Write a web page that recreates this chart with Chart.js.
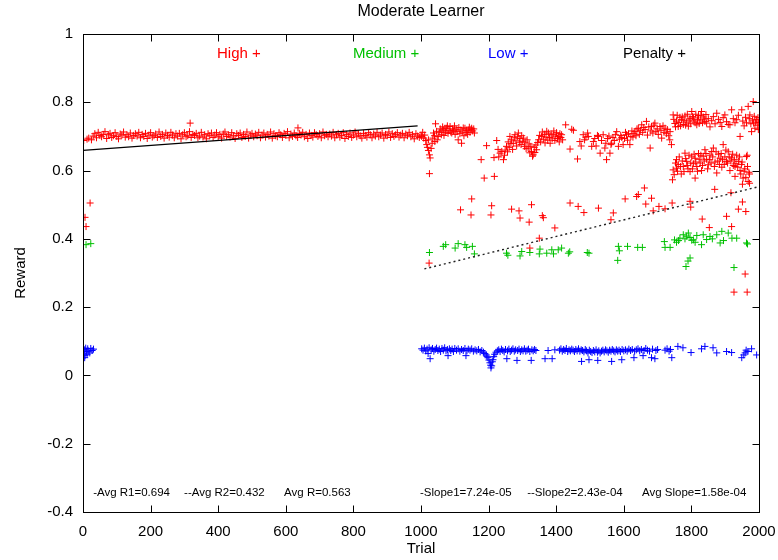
<!DOCTYPE html>
<html>
<head>
<meta charset="utf-8">
<title>Moderate Learner</title>
<script src="https://cdn.jsdelivr.net/npm/chart.js@4.4.0/dist/chart.umd.min.js"></script>
<style>
  html, body { margin: 0; padding: 0; background: #fff; }
  #wrap { width: 778px; height: 560px; }
</style>
</head>
<body>
<div id="wrap"><canvas id="chart" width="778" height="560"></canvas></div>
<script>
// [trial, reward]

// High reward: a tight band in trials 0-1000, then a looser cloud
const highPoints = [
  [2,.688],[6,.463],[9,.436],[12,.692],[17,.695],[21,.505],[25,.690],[317,.739],[636,.725],
  [30,.701],[35,.708],[40,.696],[45,.712],[50,.703],[55,.699],[60,.706],[65,.714],[70,.694],[75,.705],[80,.709],[85,.697],[90,.702],[95,.711],[100,.700],[105,.693],[110,.707],[115,.704],[120,.713],[125,.698],
  [130,.705],[135,.699],[140,.710],[145,.695],[150,.703],[155,.708],[160,.701],[165,.712],[170,.696],[175,.706],[180,.700],[185,.709],[190,.694],[195,.704],[200,.711],[205,.698],[210,.702],[215,.707],[220,.697],[225,.713],
  [230,.700],[235,.706],[240,.695],[245,.710],[250,.703],[255,.698],[260,.712],[265,.704],[270,.696],[275,.708],[280,.701],[285,.709],[290,.693],[295,.705],[300,.711],[305,.699],[310,.702],[315,.714],[320,.697],[325,.706],
  [330,.703],[335,.709],[340,.696],[345,.701],[350,.712],[355,.698],[360,.705],[365,.693],[370,.708],[375,.702],[380,.710],[385,.697],[390,.704],[395,.711],[400,.699],[405,.706],[410,.695],[415,.707],[420,.713],[425,.700],
  [430,.705],[435,.698],[440,.711],[445,.702],[450,.694],[455,.708],[460,.703],[465,.710],[470,.697],[475,.706],[480,.700],[485,.713],[490,.695],[495,.704],[500,.709],[505,.699],[510,.707],[515,.702],[520,.712],[525,.696],
  [530,.704],[535,.710],[540,.698],[545,.706],[550,.701],[555,.713],[560,.695],[565,.708],[570,.702],[575,.699],[580,.711],[585,.705],[590,.697],[595,.709],[600,.703],[605,.714],[610,.696],[615,.707],[620,.700],[625,.710],
  [630,.702],[635,.697],[640,.709],[645,.704],[650,.712],[655,.699],[660,.706],[665,.694],[670,.710],[675,.703],[680,.698],[685,.711],[690,.705],[695,.700],[700,.708],[705,.696],[710,.713],[715,.702],[720,.706],[725,.699],
  [730,.707],[735,.701],[740,.712],[745,.696],[750,.705],[755,.709],[760,.698],[765,.703],[770,.711],[775,.694],[780,.706],[785,.700],[790,.710],[795,.697],[800,.704],[805,.713],[810,.699],[815,.708],[820,.702],[825,.695],
  [830,.709],[835,.703],[840,.698],[845,.711],[850,.705],[855,.696],[860,.707],[865,.701],[870,.712],[875,.699],[880,.704],[885,.710],[890,.695],[895,.706],[900,.702],[905,.713],[910,.697],[915,.708],[920,.700],[925,.705],
  [930,.711],[935,.698],[940,.704],[945,.709],[950,.696],[955,.707],[960,.702],[965,.712],[970,.699],[975,.705],[980,.693],[985,.708],[990,.701],[995,.697],[1000,.704],
  // second half
  [1002,.700],[1005,.712],[1008,.695],[1011,.704],[1014,.688],[1017,.676],[1019,.668],[1022,.690],[1022,.659],[1025,.646],[1027,.637],[1025,.591],[1030,.665],[1033,.680],[1035,.695],[1037,.710],[1040,.702],[1041,.685],[1043,.737],[1046,.715],[1048,.690],[1051,.700],
  [1054,.712],[1057,.722],[1060,.705],[1062,.716],[1064,.728],[1066,.719],[1068,.703],[1071,.724],[1073,.712],[1076,.724],[1078,.731],[1080,.709],[1083,.718],[1086,.729],[1088,.713],[1091,.710],[1093,.722],[1096,.717],[1099,.731],[1101,.706],
  [1104,.721],[1107,.714],[1110,.690],[1112,.726],[1115,.708],[1118,.719],[1120,.680],[1122,.713],[1125,.725],[1127,.702],[1130,.724],[1133,.711],[1135,.718],[1138,.706],[1140,.719],[1143,.727],[1145,.712],[1148,.721],[1150,.724],[1153,.716],[1156,.722],[1158,.710],
  [1178,.632],[1187,.578],[1194,.673],[1216,.638],[1217,.583],[1224,.688],[1234,.651],[1228,.662],[1239,.656],[1230,.640],
  [1244,.632],[1247,.645],[1249,.660],[1253,.671],[1256,.655],[1258,.684],[1261,.668],[1263,.700],[1266,.679],[1268,.690],[1271,.662],[1273,.680],[1276,.696],[1278,.705],[1281,.687],[1283,.672],[1286,.699],[1288,.710],[1291,.683],[1293,.694],
  [1296,.676],[1298,.702],[1301,.686],[1303,.695],[1306,.671],[1308,.683],[1311,.664],[1314,.690],[1317,.666],[1320,.678],[1322,.652],[1325,.671],[1327,.656],[1330,.642],[1332,.646],[1335,.668],[1337,.653],[1340,.675],[1342,.661],[1345,.682],
  [1348,.690],[1351,.703],[1354,.684],[1357,.700],[1359,.713],[1362,.692],[1365,.706],[1367,.681],[1370,.698],[1372,.715],[1375,.689],[1377,.710],[1380,.697],[1382,.680],[1385,.707],[1388,.693],[1391,.705],[1393,.716],[1396,.688],[1399,.701],
  [1401,.711],[1404,.694],[1406,.700],[1409,.684],[1411,.708],[1414,.697],[1416,.705],[1419,.690],
  [1428,.734],[1441,.663],[1446,.721],[1451,.718],[1463,.634],[1470,.685],[1474,.672],[1480,.705],[1484,.690],[1488,.698],[1493,.710],[1495,.700],
  [1505,.671],[1510,.685],[1514,.694],[1518,.672],[1522,.703],[1525,.700],[1530,.651],[1534,.688],[1539,.705],[1544,.666],[1547,.680],[1549,.632],[1552,.694],[1556,.701],[1559,.651],[1562,.676],[1564,.680],[1568,.697],[1572,.688],[1575,.705],
  [1579,.714],[1584,.671],[1587,.692],[1591,.703],[1594,.697],[1598,.676],
  [1602,.694],[1605,.712],[1608,.705],[1611,.689],[1614,.708],[1618,.676],[1621,.700],[1624,.716],[1627,.698],[1630,.709],[1633,.714],[1636,.702],[1639,.722],[1643,.724],[1646,.706],[1649,.718],[1653,.734],[1656,.712],[1659,.726],[1663,.720],
  [1667,.744],[1670,.704],[1674,.728],[1678,.666],[1680,.716],[1682,.729],[1686,.710],[1689,.733],[1692,.739],[1695,.715],[1699,.722],[1702,.706],[1707,.729],[1710,.718],[1712,.695],[1716,.731],[1719,.712],[1722,.724],[1726,.708],[1729,.720],
  [1733,.702],[1737,.714],[1741,.676],[1736,.690],
  [1746,.763],[1751,.738],[1756,.745],[1761,.729],[1766,.756],[1771,.749],[1776,.735],[1781,.760],[1786,.742],[1791,.730],[1796,.752],[1801,.773],[1806,.754],[1811,.740],[1816,.734],[1821,.761],[1826,.748],[1830,.773],[1835,.757],[1840,.744],
  [1845,.739],[1850,.752],[1855,.728],[1860,.746],[1865,.758],[1870,.737],[1875,.768],[1880,.750],[1885,.741],[1890,.729],[1894,.755],[1899,.763],[1904,.743],[1909,.735],[1914,.734],[1919,.778],[1924,.752],[1929,.740],[1934,.749],[1939,.762],
  [1944,.700],[1949,.778],[1952,.745],[1956,.731],[1960,.756],[1963,.740],[1968,.788],[1971,.752],[1973,.763],[1976,.737],[1978,.714],[1981,.748],[1983,.802],[1984,.739],[1986,.759],[1988,.724],[1990,.742],[1993,.749],[1995,.733],[1997,.755],
  [1999,.741],[1998,.720],
  [1748,.750],[1753,.728],[1758,.762],[1763,.741],[1768,.731],[1773,.757],[1778,.746],[1783,.733],[1788,.765],[1793,.748],[1798,.737],[1803,.758],[1808,.745],[1813,.765],[1818,.749],[1823,.738],[1828,.762],[1833,.740],[1838,.751],[1843,.764],
  [1744,.573],[1746,.602],[1756,.607],[1756,.632],[1761,.618],[1770,.590],[1776,.612],[1781,.651],[1786,.627],[1790,.605],[1796,.597],[1801,.640],[1806,.620],[1811,.636],[1811,.578],[1816,.612],[1821,.650],[1826,.622],[1830,.600],[1835,.642],
  [1840,.661],[1845,.633],[1850,.617],[1855,.645],[1860,.656],[1865,.666],[1870,.625],[1875,.593],[1880,.648],[1885,.636],[1890,.610],[1894,.676],[1899,.640],[1904,.627],[1909,.655],[1914,.600],[1919,.637],[1924,.615],[1929,.612],[1929,.583],
  [1934,.645],[1939,.627],[1944,.600],[1948,.618],[1953,.578],[1958,.605],[1963,.641],[1968,.568],[1972,.590],[1965,.645],
  [1749,.588],[1753,.622],[1759,.598],[1764,.640],[1768,.612],[1773,.628],[1778,.597],[1783,.635],[1788,.615],[1793,.645],[1798,.622],[1803,.605],[1808,.648],[1813,.625],[1818,.598],[1823,.633],[1828,.645],[1833,.615],[1838,.628],[1843,.650],
  [1848,.605],[1853,.632],[1858,.622],[1863,.640],[1868,.612],[1873,.655],[1878,.628],[1883,.618],[1888,.650],[1892,.632],[1897,.618],[1902,.660],[1907,.622],[1912,.640],[1917,.628],[1922,.648],[1927,.632],[1932,.620],[1937,.610],[1942,.640],
  [1946,.590],[1950,.625],[1956,.598],[1961,.580],[1966,.612],[1970,.595],
  [1024,.329],[1117,.485],[1148,.470],[1150,.517],[1207,.470],[1209,.497],[1268,.487],[1290,.482],[1293,.461],[1320,.449],[1322,.373],[1327,.500],[1350,.402],[1359,.468],[1362,.462],[1396,.432],[1441,.505],[1465,.495],[1482,.477],[1525,.490],
  [1562,.456],[1569,.476],[1604,.517],[1638,.524],[1643,.530],[1661,.549],[1665,.502],[1682,.519],[1687,.482],[1704,.495],[1722,.488],[1743,.505],[1796,.510],[1798,.493],[1832,.458],[1853,.433],[1869,.545],[1904,.466],[1917,.535],[1919,.436],
  [1939,.487],[1951,.508],[1951,.560],[1961,.480],[1972,.563],[1959,.297],[1926,.244],[1965,.244]
];

// Medium reward
const mediumPoints = [
  [9,.383],[23,.386],
  [1025,.360],[1066,.378],[1073,.383],[1101,.373],[1110,.386],[1130,.383],[1135,.375],[1152,.378],[1158,.356],
  [1253,.358],[1257,.352],[1293,.350],[1298,.363],[1322,.360],[1352,.370],[1350,.356],[1372,.358],[1387,.368],[1392,.356],[1406,.368],[1416,.373],[1436,.358],[1440,.362],[1492,.360],[1497,.358],
  [1584,.378],[1587,.365],[1611,.378],[1641,.375],[1655,.375],[1582,.337],
  [1720,.392],[1722,.375],[1737,.375],[1750,.397],[1756,.390],[1762,.395],[1766,.402],[1776,.412],[1781,.400],[1786,.408],[1791,.417],[1796,.404],[1801,.396],[1806,.397],[1811,.390],[1816,.410],
  [1830,.383],[1835,.412],[1845,.398],[1855,.407],[1862,.400],[1875,.412],[1885,.388],[1890,.422],[1895,.395],[1909,.417],[1920,.402],[1934,.402],[1963,.388],[1966,.385],
  [1796,.344],[1790,.335],[1784,.319],[1926,.316]
];

// Low reward
const lowPoints = [
  [2,.065],[4,.075],[5,.052],[6,.058],[8,.080],[10,.070],[12,.062],[14,.078],[17,.071],[20,.066],[23,.079],[27,.073],[31,.077],
  [1002,.078],[1006,.074],[1010,.080],[1014,.072],[1018,.077],[1021,.064],[1024,.081],[1027,.049],[1030,.075],[1034,.079],[1038,.071],[1042,.076],[1046,.080],[1050,.073],[1054,.077],[1058,.070],[1062,.079],[1066,.074],[1070,.081],[1074,.072],
  [1078,.076],[1080,.058],[1084,.078],[1088,.073],[1092,.077],[1096,.070],[1100,.079],[1105,.074],[1110,.078],[1115,.071],[1120,.076],[1125,.073],[1130,.079],[1133,.058],[1136,.072],[1140,.077],[1145,.074],[1150,.078],[1155,.071],[1160,.075],
  [1165,.072],[1170,.076],[1175,.069],[1180,.073],[1185,.068],[1189,.064],[1193,.060],[1195,.056],[1198,.052],[1201,.045],[1204,.037],[1206,.030],[1207,.022],[1209,.028],[1211,.040],[1213,.046],[1215,.055],[1218,.062],[1222,.068],
  [1226,.072],[1230,.075],[1234,.070],[1238,.077],[1242,.073],[1246,.069],[1250,.076],[1254,.049],[1256,.072],[1260,.077],[1264,.070],[1268,.074],[1272,.078],[1276,.071],[1280,.075],[1284,.044],[1286,.073],[1290,.077],[1294,.070],[1298,.075],
  [1302,.072],[1306,.078],[1310,.071],[1314,.074],[1318,.077],[1322,.070],[1326,.044],[1328,.075],[1332,.072],[1336,.076],[1340,.073],
  [1367,.049],[1376,.073],[1388,.049],[1396,.075],
  [1410,.074],[1414,.078],[1418,.071],[1422,.076],[1426,.073],[1430,.079],[1434,.070],[1438,.075],[1442,.072],[1446,.077],[1450,.074],[1454,.070],[1458,.076],[1462,.072],[1466,.078],[1470,.071],[1475,.041],[1474,.075],[1478,.073],[1482,.069],
  [1486,.076],[1490,.072],[1494,.066],[1497,.046],[1498,.074],[1502,.070],[1506,.067],[1510,.073],[1514,.069],[1518,.075],[1522,.068],[1523,.044],[1526,.072],[1530,.066],[1534,.071],[1538,.074],[1542,.069],[1546,.075],[1550,.072],[1554,.068],
  [1558,.074],[1562,.071],[1564,.041],[1566,.076],[1570,.072],[1574,.069],[1578,.075],[1582,.071],[1586,.074],[1590,.070],[1594,.046],[1595,.076],[1600,.072],[1605,.075],[1610,.071],[1615,.077],[1620,.073],[1625,.076],[1630,.052],[1632,.071],
  [1637,.075],[1642,.078],[1647,.072],[1652,.076],[1657,.058],[1660,.073],[1665,.079],[1670,.074],[1676,.071],[1682,.052],[1685,.077],[1692,.049],[1695,.073],[1700,.076],[1722,.074],[1728,.078],[1734,.071],[1738,.076],[1742,.052],
  [1760,.085],[1775,.081],[1799,.067],[1830,.078],[1840,.085],[1864,.081],[1875,.066],[1904,.070],[1919,.067],[1949,.052],[1955,.060],[1959,.066],[1962,.074],[1967,.070],[1978,.078],[1993,.060]
];

// Penalty: nothing visible in this run
const penaltyPoints = [];

// fitted trend lines for each half
const fitFirstHalf = [[0, 0.659], [990, 0.731]];
const fitSecondHalf = [[1010, 0.312], [2000, 0.553]];

const xTicks = [0, 200, 400, 600, 800, 1000, 1200, 1400, 1600, 1800, 2000];
const yTicks = [-0.4, -0.2, 0, 0.2, 0.4, 0.6, 0.8, 1];

const chartTitle = 'Moderate Learner';
const keyLabels = ['High +', 'Medium +', 'Low +', 'Penalty +'];
const keyColors = ['#ff0000', '#00c000', '#0000ff', '#000000'];
const statLabels = ['-Avg R1=0.694', '--Avg R2=0.432', 'Avg R=0.563', '-Slope1=7.24e-05', '--Slope2=2.43e-04', 'Avg Slope=1.58e-04'];

const FONT = '"Liberation Sans", Arial, sans-serif';
Chart.defaults.font.family = FONT;
Chart.defaults.color = '#000';

const toXY = arr => arr.map(([x, y]) => ({ x, y }));

function pointSet(label, points, color, order) {
    return {
        label: label,
        data: toXY(points),
        showLine: false,
        pointStyle: 'cross',
        pointRadius: 3.5,
        pointBorderWidth: 1,
        borderColor: color,
        backgroundColor: color,
        order: order
    };
}

// gnuplot look: frame with inward ticks on all four sides, title, key and stats
const gnuplotFrame = {
    id: 'gnuplotFrame',
    afterDatasetsDraw(chart) {
        const { ctx, chartArea: a, scales: { x, y } } = chart;
        const L = Math.round(a.left) + 0.5, R = Math.round(a.right) + 0.5;
        const T = Math.round(a.top) + 0.5, B = Math.round(a.bottom) + 0.5;
        ctx.save();
        ctx.strokeStyle = '#000';
        ctx.lineWidth = 1;
        ctx.beginPath();
        xTicks.forEach(t => {
            const px = Math.round(x.getPixelForValue(t)) + 0.5;
            ctx.moveTo(px, B); ctx.lineTo(px, B - 7);
            ctx.moveTo(px, T); ctx.lineTo(px, T + 7);
        });
        yTicks.forEach(t => {
            const py = Math.round(y.getPixelForValue(t)) + 0.5;
            ctx.moveTo(L, py); ctx.lineTo(L + 7, py);
            ctx.moveTo(R, py); ctx.lineTo(R - 7, py);
        });
        ctx.stroke();
        ctx.strokeRect(L, T, R - L, B - T);

        ctx.textBaseline = 'middle';
        ctx.fillStyle = '#000';
        ctx.font = '16px ' + FONT;
        ctx.textAlign = 'center';
        ctx.fillText(chartTitle, (a.left + a.right) / 2, 12);

        const keyX = [217, 353, 488, 623];
        ctx.font = '15px ' + FONT;
        ctx.textAlign = 'left';
        keyLabels.forEach((txt, i) => {
            ctx.fillStyle = keyColors[i];
            ctx.fillText(txt, keyX[i], 54);
        });

        const statAt = [30, 299, 595, 997, 1314, 1654];
        ctx.fillStyle = '#000';
        ctx.font = '11.5px ' + FONT;
        statLabels.forEach((txt, i) => {
            ctx.fillText(txt, x.getPixelForValue(statAt[i]), 493);
        });
        ctx.restore();
    }
};

const ctx = document.getElementById('chart').getContext('2d');
new Chart(ctx, {
    type: 'scatter',
    data: {
        datasets: [
            {
                label: 'fit 1', data: toXY(fitFirstHalf), showLine: true,
                borderColor: '#000', borderWidth: 1.2, pointRadius: 0, order: 1
            },
            {
                label: 'fit 2', data: toXY(fitSecondHalf), showLine: true,
                borderColor: '#222', borderWidth: 1.4, borderDash: [2, 3], pointRadius: 0, order: 1
            },
            pointSet('Penalty', penaltyPoints, '#000000', 2),
            pointSet('Low', lowPoints, '#0000ff', 3),
            pointSet('Medium', mediumPoints, '#00c000', 4),
            pointSet('High', highPoints, '#ff0000', 5)
        ]
    },
    options: {
        responsive: false,
        animation: false,
        layout: { padding: { top: 34, right: 19, bottom: 0, left: 0 } },
        plugins: {
            legend: { display: false },
            tooltip: { enabled: false },
            title: { display: false }
        },
        scales: {
            x: {
                type: 'linear',
                min: 0, max: 2000,
                afterBuildTicks: s => { s.ticks = xTicks.map(v => ({ value: v })); },
                afterFit: s => { s.height = 48; s.paddingLeft = 0; s.paddingRight = 0; },
                grid: { display: false, drawTicks: false },
                border: { display: false },
                ticks: {
                    autoSkip: false, maxRotation: 0, padding: 11, font: { size: 15 }, color: '#000',
                    callback: v => String(v)
                },
                title: { display: true, text: 'Trial', font: { size: 15 }, color: '#000', padding: { top: 0, bottom: 2 } }
            },
            y: {
                type: 'linear',
                min: -0.4, max: 1,
                afterBuildTicks: s => { s.ticks = yTicks.map(v => ({ value: v })); },
                afterFit: s => { s.width = 83; s.paddingTop = 0; s.paddingBottom = 0; },
                grid: { display: false, drawTicks: false },
                border: { display: false },
                ticks: {
                    padding: 10, font: { size: 15 }, color: '#000',
                    callback: v => String(Number(v.toFixed(1)))
                },
                title: { display: true, text: 'Reward', font: { size: 15 }, color: '#000', padding: { top: 12, bottom: 0 } }
            }
        }
    },
    plugins: [gnuplotFrame]
});
</script>
</body>
</html>
